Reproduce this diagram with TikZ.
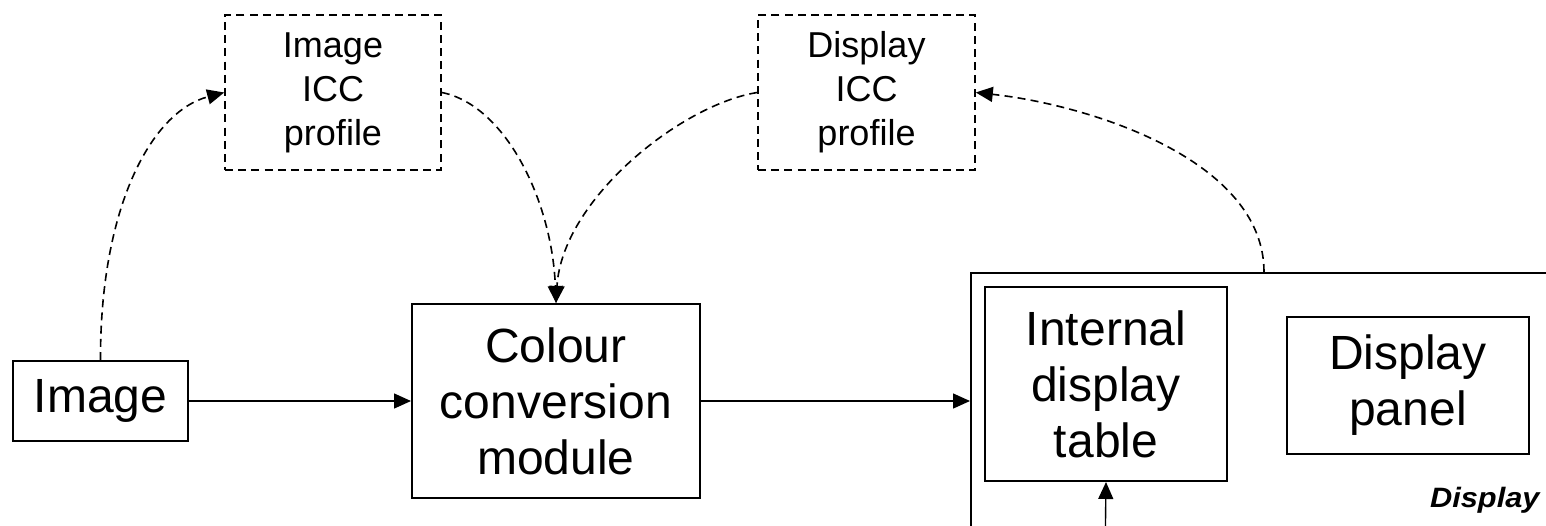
\documentclass[tikz,border=0pt]{standalone}
\usepackage{fontspec}
\setmainfont{Liberation Sans}
\usetikzlibrary{arrows.meta}

\tikzset{
  blk/.style={draw, line width=1pt, inner sep=0pt, align=center,
    font=\fontsize{24}{28}\selectfont},
  icc/.style={draw, dashed, dash pattern=on 4pt off 2.6pt, line width=0.8pt,
    inner sep=0pt, align=center, font=\fontsize{18}{22}\selectfont},
  flow/.style={line width=0.7pt, -{Triangle[length=8.5pt,width=7.5pt]}},
  dflow/.style={line width=0.8pt, dash pattern=on 4pt off 2.6pt,
    -{Triangle[length=8.5pt,width=7.5pt]}},
}

\begin{document}
\begin{tikzpicture}[x=0.5pt,y=-0.5pt]
  \useasboundingbox (0,0) rectangle (1546,525);
  \clip (0,0) rectangle (1546,525);

  % main chain
  \node[blk, minimum width=87.5pt, minimum height=40pt] (img) at (100.5,401) {Image};
  \node[blk, minimum width=144pt, minimum height=97pt] (conv) at (556,401)
    {Colour\\conversion\\module};

  % ICC profiles
  \node[icc, minimum width=108pt, minimum height=77.5pt] (iicc) at (333,92.5)
    {Image\\ICC\\profile};
  \node[icc, minimum width=108.5pt, minimum height=77.5pt] (dicc) at (866.5,92.5)
    {Display\\ICC\\profile};

  % display unit (continues past the page edge)
  \node[draw, line width=1pt, inner sep=0pt, minimum width=400pt, minimum height=200pt,
    anchor=north west] (disp) at (970,272) {};
  \node[blk, minimum width=121pt, minimum height=97pt] (idt) at (1106,384)
    {Internal\\display\\table};
  \node[blk, minimum width=121pt, minimum height=68.5pt] (panel) at (1408,385.5)
    {Display\\panel};
  \node[anchor=base east, inner sep=0pt, xscale=1.1,
    font=\fontsize{14}{16}\selectfont\bfseries\itshape] (dlabel) at (1540,507) {Display};

  \coordinate (dtap) at (1264,272);
  \coordinate (feed) at (1105,560);

  % solid connectors
  \draw[flow] (img.east) -- (conv.west);
  \draw[flow] (conv.east) -- (conv.east -| disp.west);
  \draw[flow] (feed) -- (idt.south);

  % dashed connectors
  \draw[dflow] (img.north) .. controls (100,210) and (150,112) .. (iicc.west);
  \draw[dflow] (iicc.east) .. controls (505,105) and (552,200) .. (conv.north);
  \draw[dflow] (dicc.west) .. controls (680,105) and (562,200) .. (conv.north);
  \draw[dflow] (dtap) .. controls (1264,160) and (1090,105) .. (dicc.east);
\end{tikzpicture}
\end{document}
